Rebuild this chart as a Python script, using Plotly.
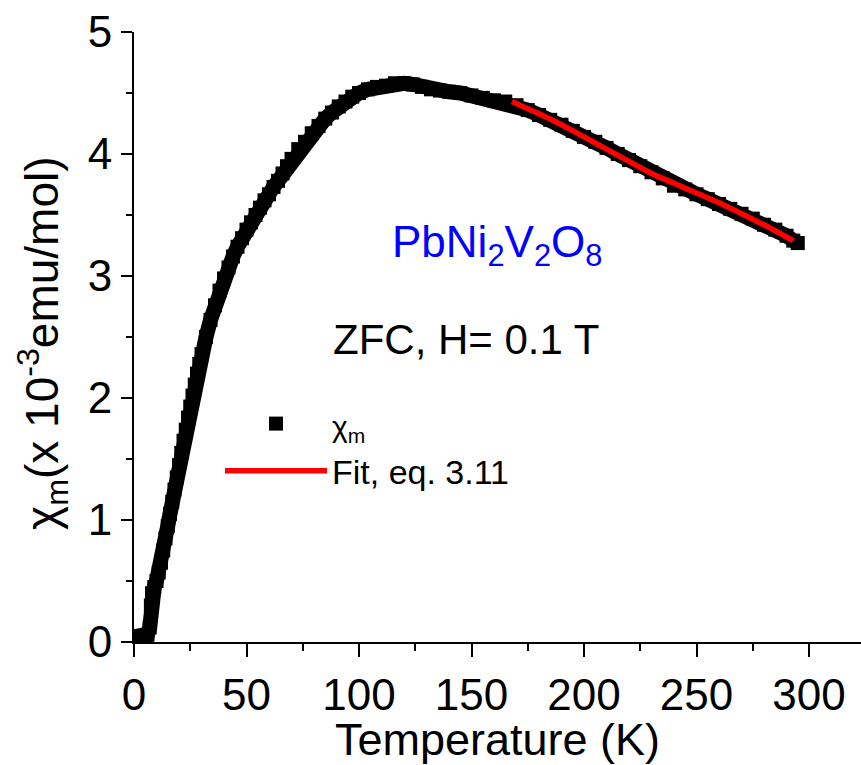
import plotly.graph_objects as go

# ---- data ----
T_data = [2, 3, 4, 5, 6, 7, 7.5, 8, 9, 10, 11, 12, 13, 14, 15, 16, 17, 18, 19, 20,
          21, 22, 23, 24, 25, 26, 27, 28, 29, 30, 32, 34, 36, 38, 40, 42, 44, 46, 48, 50,
          52, 54, 56, 58, 60, 62, 64, 66, 68, 70, 73, 76, 79, 82, 85, 88, 91, 94, 97, 100,
          104, 108, 112, 116, 120, 124, 128, 132, 136, 140, 145, 150, 155, 160, 165, 170,
          175, 180, 185, 190, 195, 200, 205, 210, 215, 220, 225, 230, 235, 240, 245, 250,
          255, 260, 265, 270, 275, 280, 285, 290, 293, 295]
chi_data = [0.05, 0.05, 0.05, 0.05, 0.06, 0.12, 0.30, 0.40, 0.45, 0.50, 0.57, 0.65, 0.75, 0.85, 0.95, 1.05, 1.15, 1.25, 1.35, 1.45,
            1.55, 1.65, 1.74, 1.84, 1.93, 2.02, 2.11, 2.20, 2.28, 2.36, 2.50, 2.64, 2.76, 2.88, 2.98, 3.07, 3.16, 3.24, 3.31, 3.38,
            3.44, 3.50, 3.56, 3.62, 3.67, 3.73, 3.78, 3.84, 3.90, 3.96, 4.04, 4.10, 4.17, 4.23, 4.29, 4.34, 4.39, 4.43, 4.47, 4.50,
            4.53, 4.55, 4.56, 4.58, 4.58, 4.57, 4.55, 4.53, 4.52, 4.51, 4.50, 4.48, 4.46, 4.44, 4.43, 4.40,
            4.36, 4.32, 4.28, 4.24, 4.19, 4.14, 4.10, 4.05, 4.00, 3.95, 3.90, 3.85, 3.80, 3.74, 3.71, 3.67,
            3.63, 3.59, 3.55, 3.51, 3.47, 3.42, 3.38, 3.33, 3.29, 3.27]

T_fit = [168, 175, 180, 190, 200, 210, 220, 230, 240, 250, 260, 270, 280, 290, 293]
chi_fit = [4.43, 4.37, 4.33, 4.24, 4.14, 4.04, 3.94, 3.84, 3.76, 3.68, 3.60, 3.51, 3.42, 3.32, 3.29]

x_ticks = [0, 50, 100, 150, 200, 250, 300]
y_ticks = [0, 1, 2, 3, 4, 5]

FONT = "Liberation Sans, Arial, sans-serif"

fig = go.Figure()
# dense band of the measured data
fig.add_trace(go.Scatter(x=T_data, y=chi_data, mode="lines",
                         line=dict(color="black", width=15),
                         showlegend=False, hoverinfo="skip"))
fig.add_trace(go.Scatter(x=T_data, y=chi_data, mode="markers",
                         marker=dict(symbol="square", size=14, color="black"),
                         name="<span style='font-size:30px'>χ<sub>m</sub></span>"))
fig.add_trace(go.Scatter(x=T_fit, y=chi_fit, mode="lines", line_shape="spline",
                         line=dict(color="#ff0000", width=5.5),
                         name="Fit, eq. 3.11"))

common_minor = dict(ticks="outside", tickwidth=2, tickcolor="black")

fig.update_layout(
    width=861, height=765,
    margin=dict(l=134, r=0, t=32, b=123),
    paper_bgcolor="white", plot_bgcolor="white",
    font=dict(family=FONT, color="black"),
    showlegend=True,
    legend=dict(x=(220 - 134) / 727, y=(642 - 395) / 610, xanchor="left", yanchor="top",
                bgcolor="rgba(0,0,0,0)", font=dict(size=34, family=FONT),
                itemwidth=102, tracegroupgap=0),
    xaxis=dict(range=[0, 323.1], tickvals=x_ticks, ticks="outside", ticklen=13, tickwidth=2,
               tickcolor="black", showline=True, linewidth=2, linecolor="black",
               showgrid=False, zeroline=False, tickfont=dict(size=44),
               minor=dict(dtick=25, tick0=0, ticklen=7, **common_minor),
               title=dict(text="Temperature (K)", font=dict(size=45), standoff=4)),
    yaxis=dict(range=[0, 5], tickvals=y_ticks, ticks="outside", ticklen=11, tickwidth=2,
               tickcolor="black", showline=True, linewidth=2, linecolor="black",
               showgrid=False, zeroline=False, tickfont=dict(size=44),
               minor=dict(dtick=0.5, tick0=0, ticklen=6, **common_minor)),
    xaxis2=dict(overlaying="x", side="top", anchor="y", range=[0, 323.1], tickvals=x_ticks,
                ticks="inside", ticklen=13, tickwidth=2, tickcolor="black",
                showline=True, linewidth=2, linecolor="black", showticklabels=False,
                showgrid=False, zeroline=False,
                minor=dict(dtick=25, tick0=0, ticklen=7, ticks="inside", tickwidth=2, tickcolor="black")),
    yaxis2=dict(overlaying="y", side="right", anchor="x", range=[0, 5], tickvals=y_ticks,
                ticks="inside", ticklen=7, tickwidth=2, tickcolor="black",
                showline=False, showticklabels=False, showgrid=False, zeroline=False,
                minor=dict(dtick=0.5, tick0=0, ticklen=2, ticks="inside", tickwidth=2, tickcolor="black")),
)

# y-axis title as rotated text
fig.add_annotation(text="χ<sub>m</sub>(x 10<sup>-3</sup>emu/mol)", xref="paper", yref="paper",
                   x=(42 - 134) / 727, y=(642 - 343) / 610, xanchor="center", yanchor="middle",
                   textangle=-90, showarrow=False, font=dict(size=46, color="black", family=FONT))
fig.add_annotation(text="PbNi<sub>2</sub>V<sub>2</sub>O<sub>8</sub>", xref="paper", yref="paper",
                   x=(390 - 134) / 727, y=(642 - 245) / 610, xanchor="left", yanchor="middle",
                   showarrow=False, font=dict(size=44, color="#0000ff", family=FONT))
fig.add_annotation(text="ZFC, H= 0.1 T", xref="paper", yref="paper",
                   x=(331 - 134) / 727, y=(642 - 339) / 610, xanchor="left", yanchor="middle",
                   showarrow=False, font=dict(size=42, color="black", family=FONT))

fig.write_html("out.html")
